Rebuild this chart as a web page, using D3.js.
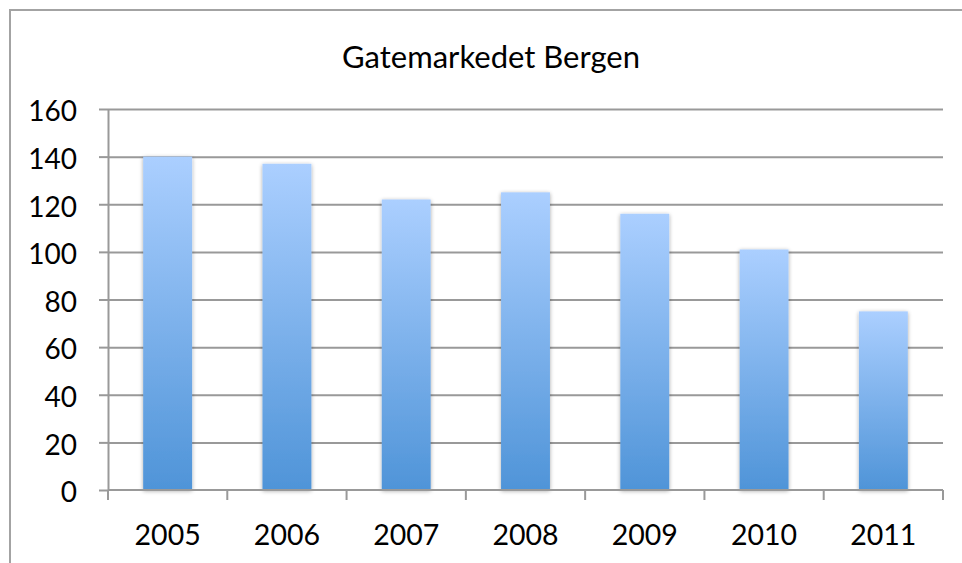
<!DOCTYPE html>
<html>
<head>
<meta charset="utf-8">
<script src="https://cdn.jsdelivr.net/npm/d3@7"></script>
<style>
  html, body { margin: 0; padding: 0; background: #fff; }
  svg { display: block; }
  text { font-family: Lato, "Open Sans", sans-serif; fill: #000; }
</style>
</head>
<body>
<svg id="chart" width="962" height="563"></svg>
<script>
// Street market figures, Bergen
const years = ["2005", "2006", "2007", "2008", "2009", "2010", "2011"];
const counts = [140, 137, 122, 125, 116, 101, 75];
const yTicks = [0, 20, 40, 60, 80, 100, 120, 140, 160];
const title = "Gatemarkedet Bergen";

const W = 962, H = 563;
const margin = { left: 108, right: 19, top: 109, bottom: 73 };

const svg = d3.select("#chart");
const defs = svg.append("defs");

const grad = defs.append("linearGradient")
  .attr("id", "barFill").attr("x1", 0).attr("y1", 0).attr("x2", 0).attr("y2", 1);
grad.append("stop").attr("offset", "0%").attr("stop-color", "#abcfff");
grad.append("stop").attr("offset", "100%").attr("stop-color", "#4f94d8");

const shadow = defs.append("filter").attr("id", "barShadow")
  .attr("x", "-30%").attr("y", "-10%").attr("width", "160%").attr("height", "120%");
shadow.append("feGaussianBlur").attr("in", "SourceAlpha").attr("stdDeviation", 2.2).attr("result", "b");
shadow.append("feOffset").attr("in", "b").attr("dx", 0).attr("dy", 1).attr("result", "o");
shadow.append("feComponentTransfer").attr("in", "o").attr("result", "s")
  .append("feFuncA").attr("type", "linear").attr("slope", 0.35);
const merge = shadow.append("feMerge");
merge.append("feMergeNode").attr("in", "s");
merge.append("feMergeNode").attr("in", "SourceGraphic");

// Outer chart frame (runs past the right and bottom edges)
svg.append("rect")
  .attr("x", 10).attr("y", 10).attr("width", W + 20).attr("height", H + 20)
  .attr("fill", "none").attr("stroke", "#a3a3a3").attr("stroke-width", 2);

svg.append("text")
  .attr("x", 491).attr("y", 68)
  .attr("text-anchor", "middle")
  .attr("font-size", 31)
  .text(title);

const x = d3.scaleBand().domain(years)
  .range([margin.left, W - margin.right]).paddingInner(0.59).paddingOuter(0.295);
const xBand = d3.scaleBand().domain(years).range([margin.left, W - margin.right]);
const y = d3.scaleLinear().domain([0, 160]).range([H - margin.bottom, margin.top]);

// Horizontal gridlines with small outer tick stubs
const gy = svg.append("g").attr("transform", `translate(${margin.left},0)`)
  .call(d3.axisLeft(y).tickValues(yTicks).tickSize(9).tickSizeOuter(0).tickPadding(22));
gy.select(".domain").attr("stroke", "#999").attr("stroke-width", 2);
gy.selectAll(".tick line").attr("stroke", "#999").attr("stroke-width", 2);
gy.selectAll(".tick text").attr("font-size", 28).attr("dy", "0.42em")
  .attr("font-family", "Lato, 'Open Sans', sans-serif").attr("fill", "#000");
gy.selectAll(".tick").filter(d => d !== 0).append("line")
  .attr("x1", 0).attr("x2", W - margin.right - margin.left)
  .attr("stroke", "#999").attr("stroke-width", 2);

// Bars
svg.append("g").selectAll("rect").data(counts).join("rect")
  .attr("x", (d, i) => x(years[i]))
  .attr("width", x.bandwidth())
  .attr("y", d => y(d))
  .attr("height", d => y(0) - y(d))
  .attr("fill", "url(#barFill)")
  .attr("filter", "url(#barShadow)");

// Category axis with ticks at band boundaries
const gx = svg.append("g").attr("transform", `translate(0,${y(0)})`);
gx.append("line").attr("x1", margin.left).attr("x2", W - margin.right)
  .attr("stroke", "#999").attr("stroke-width", 2);
const bounds = years.map(d => xBand(d)).concat([W - margin.right]);
gx.selectAll(".bt").data(bounds).join("line").attr("class", "bt")
  .attr("x1", d => d).attr("x2", d => d).attr("y1", 0).attr("y2", 10)
  .attr("stroke", "#999").attr("stroke-width", 2);
gx.selectAll(".lbl").data(years).join("text").attr("class", "lbl")
  .attr("x", d => xBand(d) + xBand.bandwidth() / 2)
  .attr("y", 55)
  .attr("text-anchor", "middle")
  .attr("font-size", 28.5)
  .text(d => d);
</script>
</body>
</html>
